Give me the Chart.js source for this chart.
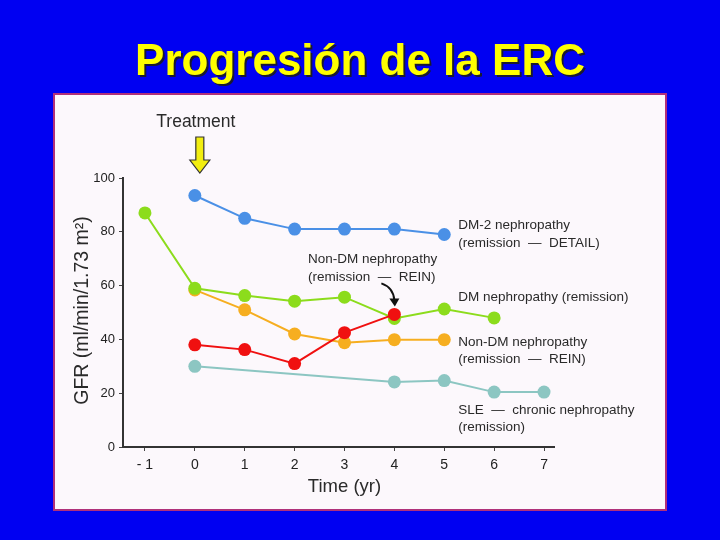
<!DOCTYPE html>
<html>
<head>
<meta charset="utf-8">
<script src="https://cdn.jsdelivr.net/npm/chart.js@4/dist/chart.umd.min.js"></script>
<style>
  html, body { margin: 0; padding: 0; background: #0000f2; }
  #wrap { width: 720px; height: 540px; }
</style>
</head>
<body>
<div id="wrap"><canvas id="gfrChart" width="720" height="540"></canvas></div>
<script>
// values (GFR, ml/min/1.73 m2, by year)
const dm2Years = [0, 1, 2, 3, 4, 5];
const dm2Gfr = [93.5, 85, 81, 81, 81, 79];
const dmYears = [-1, 0, 1, 2, 3, 4, 5, 6];
const dmGfr = [87, 59, 56.3, 54.2, 55.7, 47.8, 51.3, 48];
const nonDmYears = [0, 1, 2, 3, 4, 5];
const nonDmGfr = [58.4, 51, 42, 38.8, 39.9, 39.9];
const reinYears = [0, 1, 2, 3, 4];
const reinGfr = [38, 36.2, 31, 42.5, 49.3];
const sleYears = [0, 4, 5, 6, 7];
const sleGfr = [30, 24.2, 24.7, 20.4, 20.4];
const yearTicks = [-1, 0, 1, 2, 3, 4, 5, 6, 7];
const gfrTicks = [0, 20, 40, 60, 80, 100];

const toPoints = (xs, ys) => xs.map((x, i) => ({ x: x, y: ys[i] }));

function series(label, xs, ys, color) {
  return {
    label: label,
    data: toPoints(xs, ys),
    showLine: true,
    borderColor: color,
    backgroundColor: color,
    borderWidth: 2,
    pointRadius: 6.5,
    pointBorderWidth: 0,
    tension: 0
  };
}

const font = '"Liberation Sans", Arial, Helvetica, sans-serif';

const slideDecor = {
  id: 'slideDecor',
  beforeDraw(chart) {
    const c = chart.ctx;
    c.save();
    // title
    c.font = 'bold 44px ' + font;
    c.textAlign = 'center';
    c.textBaseline = 'alphabetic';
    c.fillStyle = '#1a1a30';
    c.fillText('Progresión de la ERC', 362, 77);
    c.fillStyle = '#ffff00';
    c.fillText('Progresión de la ERC', 360, 75);
    // panel
    c.fillStyle = '#fcf8fc';
    c.fillRect(54, 94, 612, 416);
    c.strokeStyle = '#b0307a';
    c.lineWidth = 2;
    c.strokeRect(54, 94, 612, 416);
    c.restore();
  },
  afterDraw(chart) {
    const c = chart.ctx;
    const x = chart.scales.x, y = chart.scales.y;
    c.save();
    c.fillStyle = '#2a2a2a';
    c.textBaseline = 'middle';

    // axis titles
    c.font = '18.5px ' + font;
    c.textAlign = 'center';
    c.fillText('Time (yr)', x.getPixelForValue(3), 487);
    c.save();
    c.translate(83, y.getPixelForValue(50) - 2);
    c.rotate(-Math.PI / 2);
    c.font = '19.5px ' + font;
    c.fillText('GFR (ml/min/1.73 m\u00B2)', 0, 0);
    c.restore();

    // treatment label and arrow
    const tx = x.getPixelForValue(0) + 5;
    c.font = '17.5px ' + font;
    c.fillText('Treatment', tx - 4, 122);
    c.beginPath();
    c.moveTo(tx - 4, 137);
    c.lineTo(tx + 4, 137);
    c.lineTo(tx + 4, 160);
    c.lineTo(tx + 10, 160);
    c.lineTo(tx, 173);
    c.lineTo(tx - 10, 160);
    c.lineTo(tx - 4, 160);
    c.closePath();
    c.fillStyle = '#f2ee10';
    c.fill();
    c.strokeStyle = '#333';
    c.lineWidth = 1.2;
    c.stroke();

    // series labels
    c.fillStyle = '#2a2a2a';
    c.textAlign = 'left';
    c.font = '13.5px ' + font;
    const lx = x.getPixelForValue(5.28);
    const labels = [
      ['DM-2 nephropathy', lx, 225],
      ['(remission  \u2014  DETAIL)', lx, 243],
      ['Non-DM nephropathy', x.getPixelForValue(2.27), 259],
      ['(remission  \u2014  REIN)', x.getPixelForValue(2.27), 277],
      ['DM nephropathy (remission)', lx, 297],
      ['Non-DM nephropathy', lx, 342],
      ['(remission  \u2014  REIN)', lx, 359],
      ['SLE  \u2014  chronic nephropathy', lx, 410],
      ['(remission)', lx, 427]
    ];
    labels.forEach(l => c.fillText(l[0], l[1], l[2]));

    // curved pointer to the REIN point at year 4
    const px = x.getPixelForValue(4), py = y.getPixelForValue(reinGfr[4]);
    c.strokeStyle = '#111';
    c.lineWidth = 2;
    c.beginPath();
    c.moveTo(px - 13, py - 31);
    c.quadraticCurveTo(px - 1, py - 27, px, py - 14);
    c.stroke();
    c.beginPath();
    c.moveTo(px - 5, py - 16);
    c.lineTo(px + 5, py - 16);
    c.lineTo(px + 0.5, py - 8);
    c.closePath();
    c.fillStyle = '#111';
    c.fill();
    c.restore();
  }
};

new Chart(document.getElementById('gfrChart').getContext('2d'), {
  type: 'scatter',
  data: {
    datasets: [
      series('Non-DM nephropathy (REIN) - highlighted', reinYears, reinGfr, '#f01010'),
      series('DM nephropathy', dmYears, dmGfr, '#8cdc1c'),
      series('Non-DM nephropathy', nonDmYears, nonDmGfr, '#f6ae20'),
      series('DM-2 nephropathy', dm2Years, dm2Gfr, '#4a90e6'),
      series('SLE - chronic nephropathy', sleYears, sleGfr, '#8cc6c2')
    ]
  },
  options: {
    responsive: false,
    animation: false,
    layout: { padding: { top: 178, right: 166, left: 0, bottom: 0 } },
    plugins: {
      legend: { display: false },
      tooltip: { enabled: false }
    },
    scales: {
      x: {
        type: 'linear',
        min: -1.44,
        max: 7.2,
        afterFit: s => { s.height = 93; },
        afterBuildTicks: s => { s.ticks = yearTicks.map(v => ({ value: v })); },
        grid: { drawOnChartArea: false, drawTicks: true, tickLength: 4, color: '#444', lineWidth: 1 },
        border: { display: true, color: '#333', width: 2 },
        ticks: {
          color: '#222',
          padding: 6,
          font: { family: font, size: 14 },
          callback: v => (v === -1 ? '- 1' : String(v))
        }
      },
      y: {
        min: 0,
        max: 100,
        afterFit: s => { s.width = 123; },
        afterBuildTicks: s => { s.ticks = gfrTicks.map(v => ({ value: v })); },
        grid: { drawOnChartArea: false, drawTicks: true, tickLength: 4, color: '#444', lineWidth: 1 },
        border: { display: true, color: '#333', width: 2 },
        ticks: {
          color: '#222',
          padding: 4,
          font: { family: font, size: 13 }
        }
      }
    }
  },
  plugins: [slideDecor]
});
</script>
</body>
</html>
